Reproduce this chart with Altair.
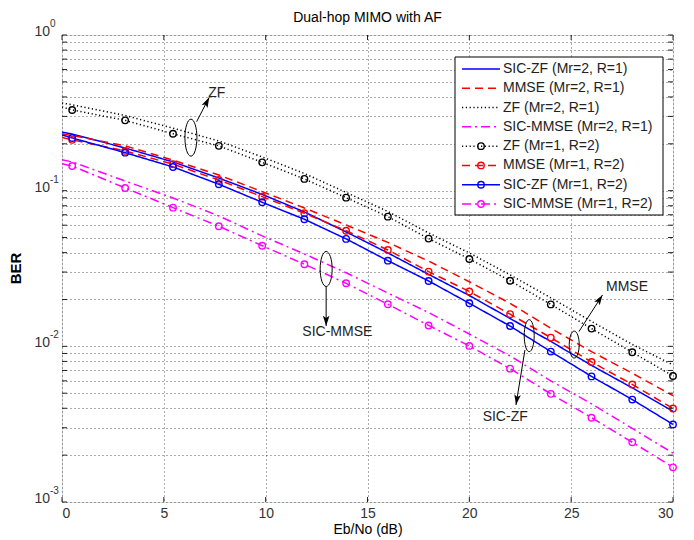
import altair as alt
import pandas as pd

# ---------------- data ----------------
ebno = [0, 0.5, 3.1, 5.45, 7.7, 9.83, 11.9, 13.95, 16.0, 18.0, 20.0, 22.0, 24.0, 26.0, 28.0, 30.0]

sic_zf_mr2 = [0.238, 0.231, 0.188, 0.153, 0.1205, 0.0946, 0.0730, 0.0543, 0.0398, 0.0290, 0.0212, 0.0151, 0.01075, 0.00754, 0.00541, 0.00382]
mmse_mr2 = [0.232, 0.226, 0.194, 0.157, 0.126, 0.0986, 0.0774, 0.0602, 0.0465, 0.0353, 0.0260, 0.0189, 0.01307, 0.00925, 0.00672, 0.00482]
zf_mr2 = [0.366, 0.356, 0.304, 0.252, 0.2087, 0.1646, 0.129, 0.0974, 0.0735, 0.0535, 0.0398, 0.0288, 0.0205, 0.01445, 0.01028, 0.0076]
sic_mmse_mr2 = [0.158, 0.153, 0.1154, 0.0898, 0.0688, 0.0512, 0.0392, 0.0297, 0.0220, 0.0165, 0.0120, 0.00868, 0.0060, 0.00427, 0.00297, 0.00206]
zf_mr1 = [0.345, 0.330, 0.283, 0.232, 0.194, 0.152, 0.119, 0.0902, 0.0681, 0.0492, 0.0364, 0.0264, 0.0186, 0.0130, 0.00916, 0.00645]
mmse_mr1 = [0.220, 0.212, 0.180, 0.148, 0.117, 0.0915, 0.0716, 0.0553, 0.0416, 0.0302, 0.0225, 0.0161, 0.01137, 0.00794, 0.00569, 0.00399]
sic_zf_mr1 = [0.228, 0.218, 0.1754, 0.142, 0.110, 0.0842, 0.0655, 0.0490, 0.0355, 0.0263, 0.0189, 0.0135, 0.00925, 0.00641, 0.00455, 0.00315]
sic_mmse_mr1 = [0.149, 0.1441, 0.1041, 0.0778, 0.0591, 0.0443, 0.0337, 0.0254, 0.01864, 0.01362, 0.01006, 0.00719, 0.00495, 0.00348, 0.00242, 0.00167]

series_names = [
    "SIC-ZF (Mr=2, R=1)", "MMSE (Mr=2, R=1)", "ZF (Mr=2, R=1)", "SIC-MMSE (Mr=2, R=1)",
    "ZF (Mr=1, R=2)", "MMSE (Mr=1, R=2)", "SIC-ZF (Mr=1, R=2)", "SIC-MMSE (Mr=1, R=2)",
]
series_values = [sic_zf_mr2, mmse_mr2, zf_mr2, sic_mmse_mr2, zf_mr1, mmse_mr1, sic_zf_mr1, sic_mmse_mr1]
series_has_marker = [False, False, False, False, True, True, True, True]

chart_title = "Dual-hop MIMO with AF"
x_ticks = [0, 5, 10, 15, 20, 25, 30]
y_grid = [m * d for d in (0.001, 0.01, 0.1) for m in range(1, 10)] + [1.0]
y_decades = [1.0, 0.1, 0.01, 0.001]
y_exponents = ["0", "-1", "-2", "-3"]

# annotations
ann_text = ["ZF", "SIC-MMSE", "MMSE", "SIC-ZF"]
ann_text_x = [7.6, 13.52, 27.74, 21.76]
ann_text_y = [0.424, 0.01238, 0.0242, 0.003536]
ell_x = [6.33, 12.97, 25.15, 22.94]
ell_y = [0.219, 0.0314, 0.01026, 0.01171]
arr_x = [6.61, 12.97, 25.38, 22.73]
arr_y = [0.2774, 0.02417, 0.01243, 0.00948]
arr_x2 = [7.23, 12.97, 26.54, 22.29]
arr_y2 = [0.398, 0.01352, 0.02139, 0.0042]

# ---------------- styles ----------------
series_colors = ["#0000ff", "#ff0000", "#000000", "#ff00ff", "#000000", "#ff0000", "#0000ff", "#ff00ff"]
series_dash = [[1, 0], [8, 5], [1.2, 2.6], [9, 4, 2, 4], [1.2, 2.6], [8, 5], [1, 0], [9, 4, 2, 4]]
ell_w_px = [12, 12, 10, 10]
ell_h_px = [37, 35, 27, 32]
arr_angle = [27, 180, 33, 189]
FONT = "Liberation Sans"
W, H = 611, 467
TICK = 5

# ---------------- tables ----------------
rows = []
for name, vals, mk in zip(series_names, series_values, series_has_marker):
    for i, (x, v) in enumerate(zip(ebno, vals)):
        rows.append({"series": name, "x": x, "ber": v, "i": i, "marker": bool(mk and i > 0)})
df = pd.DataFrame(rows)

ell_paths = []
for w, h in zip(ell_w_px, ell_h_px):
    r = w / h
    ell_paths.append(f"M0,-1 A{r:.3f},1 0 1,1 0,1 A{r:.3f},1 0 1,1 0,-1 Z")
ell_df = pd.DataFrame({"x": ell_x, "y": ell_y, "shape": ell_paths, "size": [h * h for h in ell_h_px]})
arr_df = pd.DataFrame({"x": arr_x, "y": arr_y, "x2": arr_x2, "y2": arr_y2, "angle": arr_angle})
txt_df = pd.DataFrame({"x": ann_text_x, "y": ann_text_y, "t": ann_text})
dec_df = pd.DataFrame({"v": y_decades, "e": y_exponents})
xt_df = pd.DataFrame({"x": x_ticks})
yt_df = pd.DataFrame({"v": y_grid})
leg_df = pd.DataFrame({"series": series_names, "row": list(range(len(series_names))), "marker": series_has_marker})

xscale = alt.Scale(domain=[0, 30], nice=False, zero=False)
yscale = alt.Scale(type="log", domain=[0.001, 1], nice=False)
cscale = alt.Scale(domain=series_names, range=series_colors)
dscale = alt.Scale(domain=series_names, range=series_dash)

X = alt.X("x:Q", scale=xscale, axis=alt.Axis(
    values=x_ticks, title="Eb/No (dB)", grid=True, gridDash=[1, 3], gridColor="#333", gridOpacity=0.8,
    ticks=False, domain=False, labelFontSize=14, labelColor="#333", labelFont=FONT, labelPadding=4,
    titleFontSize=14, titleFont=FONT, titleFontWeight="normal", titleColor="#000", titlePadding=2))
Y = alt.Y("ber:Q", scale=yscale, axis=alt.Axis(
    values=y_grid, labels=False, ticks=False, domain=False, grid=True, gridDash=[1, 3],
    gridColor="#333", gridOpacity=0.8, title="BER", titleFontSize=15, titleFont=FONT,
    titleFontWeight="bold", titleColor="#000", titleX=-42, titleY=233, titleBaseline="alphabetic"))

base = alt.Chart(df)
lines = base.mark_line(strokeWidth=1.5, clip=True).encode(
    x=X, y=Y,
    color=alt.Color("series:N", scale=cscale, legend=None),
    strokeDash=alt.StrokeDash("series:N", scale=dscale, legend=None),
    order=alt.Order("i:Q"),
)
points = base.transform_filter(alt.datum.marker).mark_point(
    shape="circle", filled=False, size=42, strokeWidth=1.4, opacity=1).encode(
    x=alt.X("x:Q", scale=xscale), y=alt.Y("ber:Q", scale=yscale),
    color=alt.Color("series:N", scale=cscale, legend=None),
)

# inward ticks on all four sides
xt_bot = alt.Chart(xt_df).mark_rule(color="#222", strokeWidth=1).encode(
    x=alt.X("x:Q", scale=xscale), y=alt.value(H), y2=alt.value(H - TICK))
xt_top = alt.Chart(xt_df).mark_rule(color="#222", strokeWidth=1).encode(
    x=alt.X("x:Q", scale=xscale), y=alt.value(0), y2=alt.value(TICK))
yt_left = alt.Chart(yt_df).mark_rule(color="#222", strokeWidth=1).encode(
    y=alt.Y("v:Q", scale=yscale), x=alt.value(0), x2=alt.value(TICK))
yt_right = alt.Chart(yt_df).mark_rule(color="#222", strokeWidth=1).encode(
    y=alt.Y("v:Q", scale=yscale), x=alt.value(W - TICK), x2=alt.value(W))

ellipses = alt.Chart(ell_df).mark_point(filled=False, color="#000", strokeWidth=1, opacity=1).encode(
    x=alt.X("x:Q", scale=xscale), y=alt.Y("y:Q", scale=yscale),
    shape=alt.Shape("shape:N", scale=None), size=alt.Size("size:Q", scale=None),
)
arrows = alt.Chart(arr_df).mark_rule(color="#000", strokeWidth=1).encode(
    x=alt.X("x:Q", scale=xscale), y=alt.Y("y:Q", scale=yscale),
    x2="x2:Q", y2="y2:Q",
)
heads = alt.Chart(arr_df).mark_point(
    shape="M0,0 L-0.32,1 L0,0.78 L0.32,1 Z", filled=True, color="#000", size=420, opacity=1).encode(
    x=alt.X("x2:Q", scale=xscale), y=alt.Y("y2:Q", scale=yscale),
    angle=alt.Angle("angle:Q", scale=None),
)
labels = alt.Chart(txt_df).mark_text(font=FONT, fontSize=14, color="#222", align="center", baseline="middle").encode(
    x=alt.X("x:Q", scale=xscale), y=alt.Y("y:Q", scale=yscale), text="t:N",
)
ytens = alt.Chart(dec_df).mark_text(font=FONT, fontSize=14, color="#333", align="right", baseline="alphabetic", dy=1).encode(
    x=alt.value(-12), y=alt.Y("v:Q", scale=yscale), text=alt.value("10"),
)
yexps = alt.Chart(dec_df).mark_text(font=FONT, fontSize=10, color="#333", align="left", baseline="alphabetic", dy=-8).encode(
    x=alt.value(-12), y=alt.Y("v:Q", scale=yscale), text="e:N",
)
title = alt.Chart(pd.DataFrame({"t": [chart_title]})).mark_text(
    font=FONT, fontSize=14, color="#000", align="center", baseline="middle").encode(
    x=alt.value(W / 2), y=alt.value(-17), text="t:N")

main = alt.layer(lines, points, xt_bot, xt_top, yt_left, yt_right,
                 ellipses, arrows, heads, labels, ytens, yexps, title)

# legend box (rows placed through a point scale)
rowscale = alt.Scale(type="point", domain=list(range(len(series_names))), range=[34, 169], padding=0)
box = alt.Chart(pd.DataFrame({"k": [0]})).mark_rect(fill="#fff", stroke="#000", strokeWidth=1).encode(
    x=alt.value(393), x2=alt.value(601), y=alt.value(22), y2=alt.value(180))
leg_lines = alt.Chart(leg_df).mark_rule(strokeWidth=1.5).encode(
    x=alt.value(400), x2=alt.value(438),
    y=alt.Y("row:O", scale=rowscale, axis=None),
    color=alt.Color("series:N", scale=cscale, legend=None),
    strokeDash=alt.StrokeDash("series:N", scale=dscale, legend=None),
)
leg_pts = alt.Chart(leg_df).transform_filter(alt.datum.marker).mark_point(
    shape="circle", filled=False, size=42, strokeWidth=1.4, opacity=1).encode(
    x=alt.value(419), y=alt.Y("row:O", scale=rowscale, axis=None),
    color=alt.Color("series:N", scale=cscale, legend=None),
)
leg_txt = alt.Chart(leg_df).mark_text(font=FONT, fontSize=14, color="#222", align="left", baseline="middle").encode(
    x=alt.value(441), y=alt.Y("row:O", scale=rowscale, axis=None), text="series:N",
)
legend = alt.layer(box, leg_lines, leg_pts, leg_txt)

chart = alt.layer(main, legend).resolve_scale(y="independent").properties(
    width=W, height=H,
    autosize=alt.AutoSizeParams(type="none"),
    padding={"left": 54, "top": 27, "right": 13, "bottom": 37},
).configure_view(stroke="#222", strokeWidth=1).configure(background="#fff")

chart.save("out.html", embed_options={"renderer": "svg", "actions": False})
